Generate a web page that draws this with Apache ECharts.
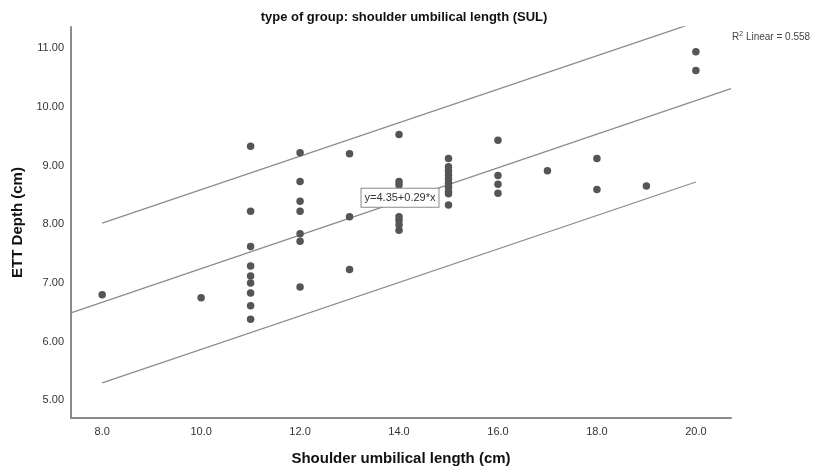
<!DOCTYPE html>
<html>
<head>
<meta charset="utf-8">
<script src="https://cdn.jsdelivr.net/npm/echarts@6/dist/echarts.min.js"></script>
<style>html,body{margin:0;padding:0;background:#fff;}#c{width:818px;height:472px;}</style>
</head>
<body>
<div id="c"></div>
<script>
// Shoulder umbilical length (cm) and ETT depth (cm) for each observation
var sulX = [8, 10,
  11, 11, 11, 11, 11, 11, 11, 11, 11,
  12, 12, 12, 12, 12, 12, 12,
  13, 13, 13,
  14, 14, 14, 14, 14, 14, 14,
  15, 15, 15, 15, 15, 15, 15, 15, 15, 15,
  16, 16, 16, 16,
  17, 18, 18, 19, 20, 20];
var ettY = [6.80, 6.75,
  9.33, 8.22, 7.62, 7.29, 7.12, 7.00, 6.83, 6.61, 6.38,
  9.22, 8.73, 8.39, 8.22, 7.84, 7.71, 6.93,
  9.20, 8.13, 7.23,
  9.53, 8.73, 8.67, 8.13, 8.07, 7.99, 7.90,
  9.12, 8.98, 8.91, 8.84, 8.77, 8.70, 8.63, 8.56, 8.52, 8.33,
  9.43, 8.83, 8.68, 8.53,
  8.91, 9.12, 8.59, 8.65, 10.94, 10.62];
// Fit line and prediction interval endpoints (x, y)
var fitLine = [[7.37, 6.49], [20.71, 10.31]];
var upperPI = [[8, 8.02], [20, 11.44]];
var lowerPI = [[8, 5.30], [20, 8.72]];
var xTicks = [8, 10, 12, 14, 16, 18, 20];
var yTicks = [5, 6, 7, 8, 9, 10, 11];
var equationText = 'y=4.35+0.29*x';
var equationAt = [14.02, 8.45];
var r2Value = '0.558';
var titleText = 'type of group: shoulder umbilical length (SUL)';
var xTitle = 'Shoulder umbilical length (cm)';
var yTitle = 'ETT Depth (cm)';

var points = sulX.map(function (x, i) { return [x, ettY[i]]; });
var FONT = "'Liberation Sans', Arial, sans-serif";

var chart = echarts.init(document.getElementById('c'), null, {renderer: 'canvas'});
chart.setOption({
  animation: false,
  backgroundColor: '#fff',
  title: [{
    text: titleText,
    left: 399, top: 6, textAlign: 'center',
    textStyle: {fontFamily: FONT, fontWeight: 'bold', fontSize: 13, color: '#111'}
  }, {
    text: '{n|R}{s|2}{n| Linear = ' + r2Value + '}',
    left: 727, top: 26,
    textStyle: {
      fontWeight: 'normal',
      rich: {
        n: {fontFamily: FONT, fontWeight: 'normal', fontSize: 10, color: '#444'},
        s: {fontFamily: FONT, fontWeight: 'normal', fontSize: 7, color: '#444', verticalAlign: 'top', padding: [0, 0, 6, 0]}
      }
    }
  }],
  grid: {left: 71, right: 87, top: 27, bottom: 54, containLabel: false, outerBoundsMode: 'none'},
  xAxis: {
    type: 'value', min: 7.37, max: 20.71,
    name: xTitle, nameLocation: 'middle', nameGap: 33,
    nameTextStyle: {fontFamily: FONT, fontWeight: 'bold', fontSize: 15, color: '#111'},
    axisLine: {show: true, onZero: false, lineStyle: {color: '#8a8a8a', width: 2}},
    axisTick: {show: false},
    splitLine: {show: false},
    axisLabel: {
      customValues: xTicks, margin: 8,
      fontFamily: FONT, fontSize: 11, color: '#333',
      formatter: function (v) { return v.toFixed(1); }
    }
  },
  yAxis: {
    type: 'value', min: 4.70, max: 11.36,
    name: yTitle, nameLocation: 'middle', nameGap: 44, nameRotate: 90,
    nameTextStyle: {fontFamily: FONT, fontWeight: 'bold', fontSize: 15, color: '#111'},
    axisLine: {show: true, onZero: false, lineStyle: {color: '#8a8a8a', width: 2}},
    axisTick: {show: false},
    splitLine: {show: false},
    axisLabel: {
      customValues: yTicks, margin: 7,
      fontFamily: FONT, fontSize: 11, color: '#333',
      formatter: function (v) { return v.toFixed(2); }
    }
  },
  series: [{
    type: 'line', data: upperPI, symbol: 'none', clip: true, silent: true,
    lineStyle: {color: '#8c8c8c', width: 1.3}
  }, {
    type: 'line', data: lowerPI, symbol: 'none', clip: true, silent: true,
    lineStyle: {color: '#8c8c8c', width: 1.3}
  }, {
    type: 'line', data: fitLine, symbol: 'none', clip: true, silent: true,
    lineStyle: {color: '#8c8c8c', width: 1.3}
  }, {
    type: 'scatter', data: points, symbolSize: 7.5,
    itemStyle: {color: '#555', opacity: 1},
    z: 3
  }, {
    type: 'scatter', data: [], z: 5,
    markPoint: {
      symbol: 'rect', symbolSize: 0, silent: true,
      data: [{coord: equationAt, value: equationText}],
      label: {
        show: true, position: 'inside', formatter: equationText,
        fontFamily: FONT, fontSize: 11, color: '#333',
        backgroundColor: '#fff', borderColor: '#8a8a8a', borderWidth: 1,
        padding: [4, 3, 3, 3]
      }
    }
  }]
});
</script>
</body>
</html>
